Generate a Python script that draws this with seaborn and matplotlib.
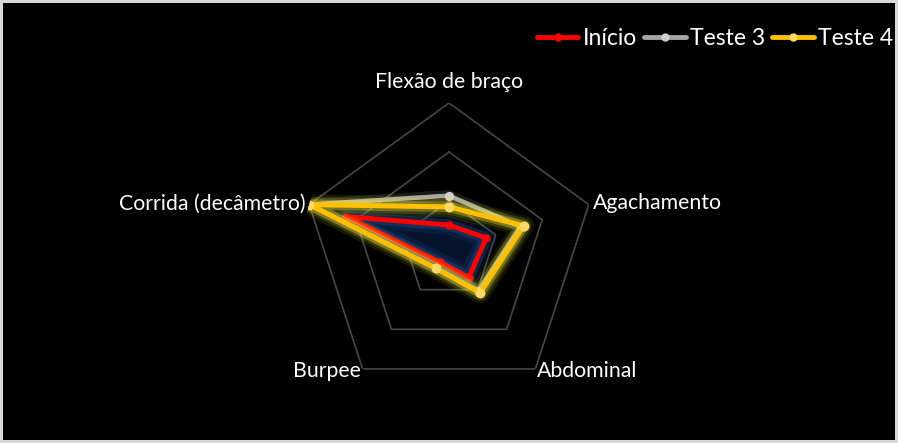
import numpy as np
import matplotlib.pyplot as plt
import matplotlib.patheffects as pe
from matplotlib.lines import Line2D
import seaborn as sns

# dados (cada anel = 10)
categorias = ["Flexão de braço", "Agachamento", "Abdominal", "Burpee", "Corrida (decâmetro)"]
inicio = [5.1, 8.0, 6.9, 3.1, 22.1]
teste3 = [11.1, 15.4, 10.3, 4.6, 30.0]
teste4 = [8.8, 16.0, 10.8, 4.6, 30.0]
aneis = [10, 20, 30]
series = ["Início", "Teste 3", "Teste 4"]

sns.set_theme(style="dark")
plt.rcParams['font.family'] = ['Lato', 'DejaVu Sans']

n = len(categorias)
angulos = np.linspace(0, 2 * np.pi, n, endpoint=False)
ang_fech = np.append(angulos, angulos[0])


def fechar(v):
    return list(v) + [v[0]]


fig = plt.figure(figsize=(8.98, 4.43), dpi=100, facecolor='black')
fig.patch.set_edgecolor('#d9d9d9')
fig.patch.set_linewidth(3)
ax = fig.add_axes([0.3363, 0.1038, 0.3274, 0.6637], projection='polar')
ax.set_facecolor('none')
ax.set_theta_offset(np.pi / 2)
ax.set_theta_direction(-1)
ax.set_ylim(0, 30)
ax.grid(False)
ax.spines['polar'].set_visible(False)
ax.set_xticks([])
ax.set_yticks([])

# aneis pentagonais
for r in aneis:
    ax.plot(ang_fech, [r] * (n + 1), color='#474747', lw=1.2, zorder=1)

# Início (vermelho com brilho azul)
ax.fill(ang_fech, fechar(inicio), color='#061530', alpha=0.95, zorder=2)
glow_azul = [pe.Stroke(linewidth=14, foreground='#1f4e9a', alpha=0.18),
             pe.Stroke(linewidth=8, foreground='#2e5fa8', alpha=0.28),
             pe.Normal()]
sns.lineplot(x=ang_fech, y=fechar(inicio), sort=False, estimator=None, ax=ax,
             color='#ff0000', lw=3.5, path_effects=glow_azul, zorder=3)
sns.scatterplot(x=angulos, y=inicio, ax=ax, color='#ff0000', s=36, linewidth=0, zorder=3.5)

# Teste 3 (cinza)
glow_cinza = [pe.Stroke(linewidth=8, foreground='#ffffff', alpha=0.10), pe.Normal()]
sns.lineplot(x=ang_fech, y=fechar(teste3), sort=False, estimator=None, ax=ax,
             color='#a5a5a5', lw=3.2, path_effects=glow_cinza, zorder=4)
sns.scatterplot(x=angulos, y=teste3, ax=ax, color='#d0d0d0', s=45, linewidth=0, zorder=4.5)

# Teste 4 (amarelo com brilho)
glow_amarelo = [pe.Stroke(linewidth=15, foreground='#ffff00', alpha=0.09),
                pe.Stroke(linewidth=11, foreground='#ffff33', alpha=0.15),
                pe.Stroke(linewidth=7.5, foreground='#ffee55', alpha=0.3),
                pe.Normal()]
sns.lineplot(x=ang_fech, y=fechar(teste4), sort=False, estimator=None, ax=ax,
             color='#ffc000', lw=3.6, path_effects=glow_amarelo, zorder=5)
sns.scatterplot(x=angulos, y=teste4, ax=ax, color='#ffd966', s=50, linewidth=0, zorder=5.5)

# rótulos das categorias
pos = [(34.3, 'center', 'center'), (30.8, 'left', 'center'), (30.6, 'left', 'center'),
       (30.6, 'right', 'center'), (30.8, 'right', 'center')]
for a, txt, (r, ha, va) in zip(angulos, categorias, pos):
    ax.text(a, r, txt, ha=ha, va=va, color='white', fontsize=15.3)

handles = [Line2D([], [], color=c, lw=3.5, marker='o', markersize=6, markerfacecolor=m, markeredgewidth=0)
           for c, m in [('#ff0000', '#ff0000'), ('#a5a5a5', '#d0d0d0'), ('#ffc000', '#ffd966')]]
fig.legend(handles, series, loc='center right', bbox_to_anchor=(0.9944, 0.912), ncol=3,
           frameon=False, borderpad=0, borderaxespad=0,
           handlelength=1.8, handletextpad=0.18, columnspacing=0.33,
           labelcolor='white', fontsize=16.5, numpoints=1)

fig.savefig('out.png', dpi=100, facecolor='black', edgecolor='#d9d9d9')
